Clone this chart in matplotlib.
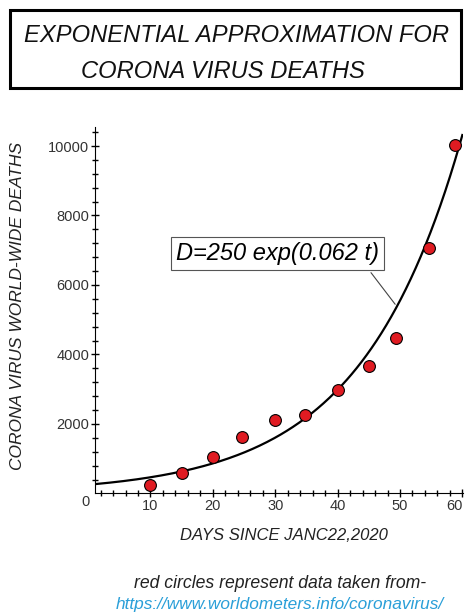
import numpy as np
import matplotlib
matplotlib.use("Agg")
import matplotlib.pyplot as plt
from matplotlib.patches import Rectangle

plt.rcParams['font.family'] = ['Liberation Sans', 'DejaVu Sans']

# данные с worldometers
days = [10, 15, 20, 24.6, 30, 34.7, 40, 45.0, 49.3, 54.7, 58.8]
deaths = [250, 600, 1050, 1630, 2100, 2270, 2990, 3660, 4470, 7060, 10030]

# модель D = A exp(k t)
A = 250
k = 0.062
t_start = 1.1
t_end = 60.0

x_ticks = [10, 20, 30, 40, 50, 60]
y_ticks = [2000, 4000, 6000, 8000, 10000]

fig = plt.figure(figsize=(4.67, 6.16), dpi=100)
ax = fig.add_axes([0.2034, 0.199, 0.788, 0.595])

t = np.linspace(t_start, t_end, 300)
ax.plot(t, A * np.exp(k * t), color='black', lw=1.6, zorder=2)
ax.plot(days, deaths, 'o', ms=8.5, mfc='#e01b22', mec='black', mew=0.8, zorder=3)

ax.set_xlim(t_start, 60.1)
ax.set_ylim(0, 10550)
ax.spines['top'].set_visible(False)
ax.spines['right'].set_visible(False)
ax.set_xticks(x_ticks)
ax.set_yticks(y_ticks)
ax.set_xticks(np.arange(2, 60, 2), minor=True)
ax.set_yticks(np.arange(400, 10500, 400), minor=True)
ax.tick_params(which='major', direction='inout', length=6, width=1, labelsize=10.5,
               labelcolor='#333333', pad=1)
ax.tick_params(which='minor', direction='inout', length=5, width=1)
ax.get_xticklabels()[-1].set_ha('right')
ax.text(-0.015, -0.005, '0', transform=ax.transAxes, ha='right', va='top',
        fontsize=10.5, color='#333333')

# подпись формулы
t_lbl = 49.5
ax.annotate('D=250 exp(0.062 t)', xy=(t_lbl, A * np.exp(k * t_lbl)), xytext=(30.4, 6910),
            ha='center', va='center', fontsize=17, style='italic',
            bbox=dict(boxstyle='square,pad=0.22', fc='white', ec='#555555', lw=0.8),
            arrowprops=dict(arrowstyle='-', color='#444444', lw=0.8, relpos=(0.93, 0)))

fig.text(0.608, 1 - 536 / 616, 'DAYS SINCE JANC22,2020', ha='center', va='center',
         fontsize=12, style='italic', color='#222222')
fig.text(18 / 467, 1 - 306 / 616, 'CORONA VIRUS WORLD-WIDE DEATHS', rotation=90,
         ha='center', va='center', fontsize=12.5, style='italic', color='#222222')

# заголовок в рамке
fig.patches.append(Rectangle((10 / 467, 1 - 88 / 616), 451 / 467, 78 / 616,
                             transform=fig.transFigure, fill=False, ec='black', lw=2.2))
fig.text(236 / 467, 1 - 35 / 616, 'EXPONENTIAL APPROXIMATION FOR', ha='center', va='center',
         fontsize=17.1, style='italic', color='#111111')
fig.text(223 / 467, 1 - 71 / 616, 'CORONA VIRUS DEATHS', ha='center', va='center',
         fontsize=17.1, style='italic', color='#111111')

fig.text(280 / 467, 1 - 584 / 616, 'red circles represent data taken from-', ha='center',
         va='center', fontsize=12.7, style='italic', color='#222222')
fig.text(280 / 467, 1 - 604 / 616, 'https://www.worldometers.info/coronavirus/', ha='center',
         va='center', fontsize=12.4, style='italic', color='#2a9fd8')

fig.savefig('out.png', dpi=100)
